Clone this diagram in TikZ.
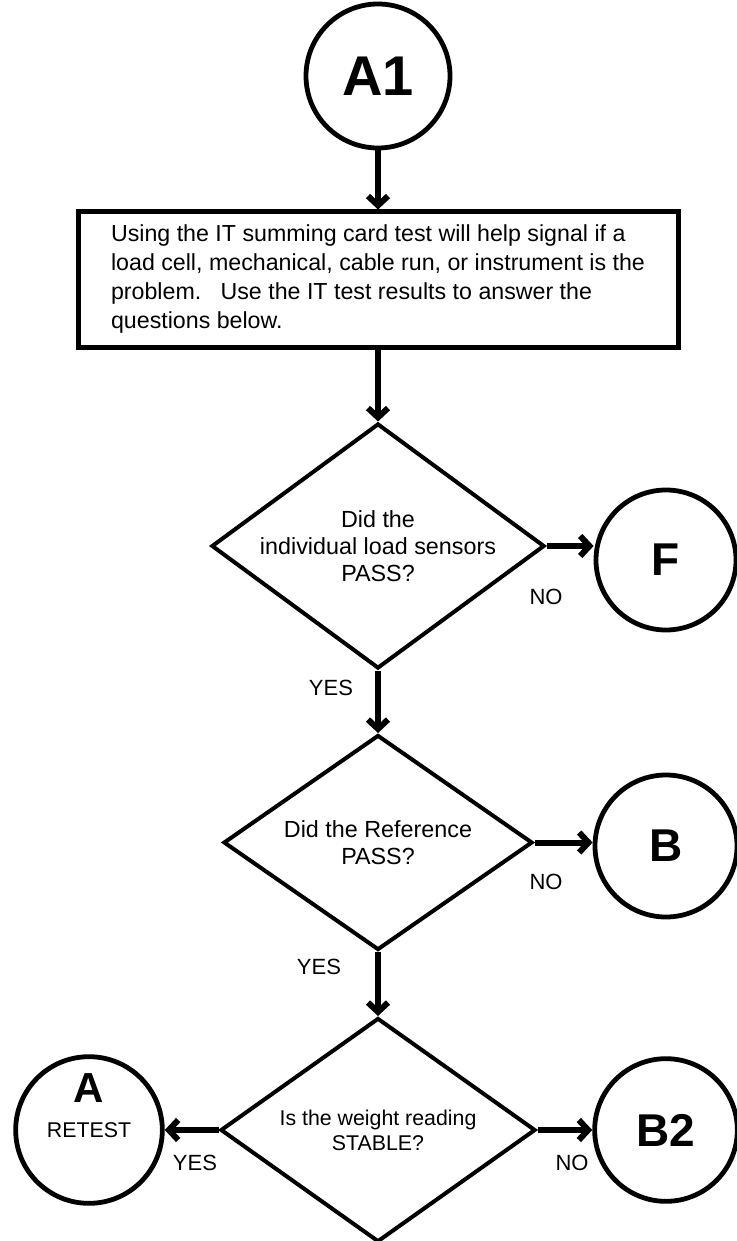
\documentclass[tikz,border=0pt]{standalone}
\usepackage{fontspec}
\setmainfont{Liberation Sans}
\usetikzlibrary{arrows.meta,positioning,shapes.geometric}
\colorlet{FlowInk}{black}

\begin{document}
\begin{tikzpicture}[x=0.75pt,y=-0.75pt,
    flowarrow/.style={-{Straight Barb[length=7pt,width=15pt]},line width=4.5pt,draw=FlowInk},
    termcircle/.style={circle,draw=FlowInk,line width=3.6pt,inner sep=0pt,
      font=\fontsize{34.5}{36}\selectfont\bfseries},
    decision/.style={diamond,draw=FlowInk,line width=3pt,inner sep=-12pt,shape aspect=1.35,
      align=center,font=\fontsize{17.5}{20}\selectfont},
    notebox/.style={rectangle,draw=FlowInk,line width=3.75pt,inner sep=0pt,align=left,
      minimum width=450pt,minimum height=101.25pt,font=\fontsize{17.4}{21.75}\selectfont},
    answer/.style={inner sep=0pt,font=\fontsize{16.5}{18}\selectfont}
  ]
    \useasboundingbox (0,0) rectangle (736,1241);

    \node[termcircle,minimum size=108pt,font=\fontsize{42}{44}\selectfont\bfseries]
      (A1) at (378,76) {A1};

    \node[notebox] (box) at (378,279.5) {%
      Using the IT summing card test will help signal if a\\
      load cell, mechanical, cable run, or instrument is the\\
      problem.\ \ \ Use the IT test results to answer the\\
      questions below.};

    \node[decision,minimum width=249.75pt,minimum height=183.75pt]
      (d1) at (378,546) {Did the\\individual load sensors\\PASS?};
    \node[termcircle,minimum size=105pt] (F) at (666,560) {F};

    \node[decision,minimum width=231.75pt,minimum height=161.25pt]
      (d2) at (378,842.5) {Did the Reference\\PASS?};
    \node[termcircle,minimum size=106.5pt] (B) at (666,846) {B};

    \node[decision,minimum width=236.25pt,minimum height=168pt,
      font=\fontsize{16}{18.75}\selectfont]
      (d3) at (378,1130) {Is the weight reading\\STABLE?};
    \node[termcircle,minimum size=110pt,font=\fontsize{16}{18}\selectfont]
      (A) at (89,1130) {RETEST};
    \node[inner sep=0pt,font=\fontsize{31.5}{33}\selectfont\bfseries]
      (Atitle) at (89,1088) {A};
    \node[termcircle,minimum size=107pt] (B2) at (666,1130) {B2};

    % answers
    \node[answer] (no1) at (546,597) {NO};
    \node[answer] (yes1) at (331,688) {YES};
    \node[answer] (no2) at (546,882) {NO};
    \node[answer] (yes2) at (319,967) {YES};
    \node[answer] (yes3) at (195,1163) {YES};
    \node[answer] (no3) at (572,1163) {NO};

    \draw[flowarrow] (A1) -- (box);
    \draw[flowarrow] (box) -- (d1);
    \draw[flowarrow] (d1.east) -- (d1.east -| F.west);
    \draw[flowarrow] (d1) -- (d2);
    \draw[flowarrow] (d2.east) -- (d2.east -| B.west);
    \draw[flowarrow] (d2) -- (d3);
    \draw[flowarrow] (d3) -- (A);
    \draw[flowarrow] (d3) -- (B2);
  \end{tikzpicture}
\end{document}
